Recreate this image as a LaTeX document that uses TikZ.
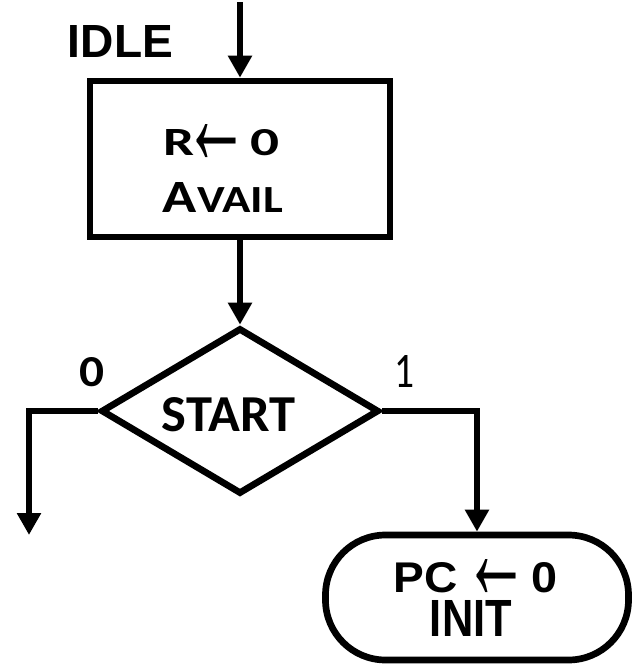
\documentclass[tikz,border=0pt]{standalone}
\usepackage{fontspec}
\usepackage{graphicx}
\setmainfont{Carlito}
\newfontfamily\arialfont{Liberation Sans}
\usetikzlibrary{shapes.geometric,arrows.meta}
\newlength\pxu
\setlength\pxu{0.02cm}
\newcommand{\fitbox}[3]{\resizebox{#1\pxu}{#2\pxu}{#3}}
\newcommand{\arrowglyph}[3]{\smash{\raisebox{#3\pxu}{\resizebox{#1\pxu}{#2\pxu}{\arialfont\mdseries ←}}}}
\tikzset{
  flow/.style={line width=3.5pt,-{Triangle[length=0.44cm,width=0.46cm]}},
  shapeline/.style={draw,line width=3.8pt},
}

\begin{document}
\begin{tikzpicture}[x=0.02cm,y=-0.02cm,inner sep=0pt]
  \useasboundingbox (0,0) rectangle (633,664);
  % shapes
  \node[shapeline,rectangle,minimum width=300\pxu,minimum height=156\pxu] (idlebox) at (240,159) {};
  \node[shapeline,diamond,minimum width=278\pxu,minimum height=166\pxu] (startdia) at (240,411) {};
  \node[shapeline,rectangle,rounded corners=60\pxu,minimum width=303\pxu,minimum height=125\pxu] (initbox) at (477,597.5) {};
  % texts
  \node (idlelbl) at (120.5,41) {\fitbox{105}{32}{\arialfont\bfseries IDLE}};
  \node[anchor=base west] (rlbl) at (163,155) {\fitbox{31}{26}{\bfseries R}\hspace{-11\pxu}\arrowglyph{66}{40}{-9}\hspace{1\pxu}\fitbox{29}{26}{\bfseries 0}};
  \node (availlbl) at (223,197) {\fitbox{120}{30}{\bfseries A{\fontsize{8.3}{10}\selectfont VAIL}}};
  \node (startlbl) at (228.5,415) {\fitbox{133}{34}{\bfseries START}};
  \node (zerolbl) at (92.5,372.5) {\fitbox{25}{29}{\bfseries 0}};
  \node (onelbl) at (405,371) {\fitbox{20}{32}{1}};
  \node[anchor=base west] (pclbl) at (393,592) {\fitbox{64}{30}{\arialfont\bfseries PC}\hspace{6\pxu}\arrowglyph{66}{40}{-7.5}\hspace{2\pxu}\fitbox{26}{30}{\arialfont\bfseries 0}};
  \node (initlbl) at (471,618.5) {\fitbox{82}{36}{\arialfont\bfseries INIT}};
  % connectors
  \coordinate (entry) at (240,2);
  \coordinate (exit0) at (29,535);
  \draw[flow] (entry) -- (idlebox.north);
  \draw[flow] (idlebox.south) -- (startdia.north);
  \draw[flow] (startdia.west) -| (exit0);
  \draw[flow] (startdia.east) -| (initbox.north);
\end{tikzpicture}
\end{document}
